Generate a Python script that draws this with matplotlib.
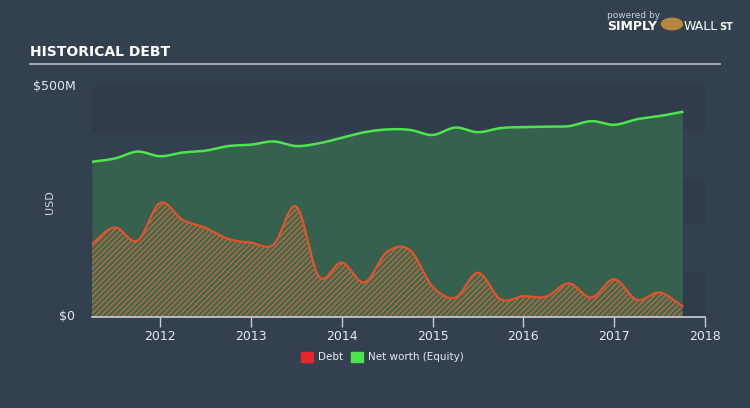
import numpy as np
import matplotlib
matplotlib.use("Agg")
import matplotlib.pyplot as plt
from matplotlib.patches import Rectangle

# ---- data (USD millions, quarterly) ----
dates = [2011.25, 2011.5, 2011.75, 2012.0, 2012.25, 2012.5, 2012.75, 2013.0,
         2013.25, 2013.5, 2013.75, 2014.0, 2014.25, 2014.5, 2014.75, 2015.0,
         2015.25, 2015.5, 2015.75, 2016.0, 2016.25, 2016.5, 2016.75, 2017.0,
         2017.25, 2017.5, 2017.75]
debt = [159, 194, 165, 247, 210, 193, 169, 161,
        157, 239, 87, 118, 75, 141, 145, 66,
        42, 96, 38, 45, 44, 73, 42, 82,
        37, 53, 24]
equity = [336, 343, 358, 348, 356, 360, 370, 373,
          380, 370, 376, 388, 400, 406, 405, 394,
          410, 400, 409, 411, 412, 413, 424, 416,
          428, 435, 444]
year_ticks = [2012, 2013, 2014, 2015, 2016, 2017, 2018]
y_ticks = [0, 500]
y_ticklabels = ["$0", "$500M"]
legend_labels = ["Debt", "Net worth (Equity)"]


def smooth(x, y, n=12):
    """Catmull-Rom rendering of the path through the data points."""
    x = np.asarray(x, float); y = np.asarray(y, float)
    px = np.concatenate([[2 * x[0] - x[1]], x, [2 * x[-1] - x[-2]]])
    py = np.concatenate([[2 * y[0] - y[1]], y, [2 * y[-1] - y[-2]]])
    xs, ys = [], []
    t = np.linspace(0, 1, n, endpoint=False)
    for i in range(1, len(px) - 2):
        for arr, out in ((px, xs), (py, ys)):
            p0, p1, p2, p3 = arr[i - 1], arr[i], arr[i + 1], arr[i + 2]
            out.extend(0.5 * ((2 * p1) + (-p0 + p2) * t +
                              (2 * p0 - 5 * p1 + 4 * p2 - p3) * t ** 2 +
                              (-p0 + 3 * p1 - 3 * p2 + p3) * t ** 3))
    xs.append(x[-1]); ys.append(y[-1])
    return np.array(xs), np.array(ys)


BG = "#334050"
BAND = "#303c4b"
plt.rcParams["hatch.linewidth"] = 0.9

fig = plt.figure(figsize=(7.5, 4.08), dpi=100)
fig.patch.set_facecolor(BG)
ax = fig.add_axes([92 / 750, 1 - 317 / 408, (705 - 92) / 750, (317 - 86) / 408])
ax.set_facecolor(BG)
ax.set_xlim(2011.25, 2018)
ax.set_ylim(0, 500)

# alternating bands
for i, lo in enumerate(range(0, 500, 100)):
    if i % 2 == 0:
        ax.axhspan(lo, lo + 100, color=BAND, lw=0, zorder=0)

ex, ey = smooth(dates, equity)
dx, dy = smooth(dates, debt)
ax.fill_between(ex, 0, ey, color="#37614f", lw=0, zorder=1)
ax.fill_between(dx, 0, dy, facecolor="#3f6a4f", edgecolor="#c8673c",
                hatch="//////", lw=0, zorder=2)
ax.plot(ex, ey, color="#4ee44e", lw=1.8, zorder=3)
ax.plot(dx, dy, color="#e4512a", lw=1.6, zorder=3)

for s in ["top", "right", "left"]:
    ax.spines[s].set_visible(False)
ax.spines["bottom"].set_color("#c8ced6")
ax.spines["bottom"].set_linewidth(1.2)
ax.set_xticks(year_ticks)
ax.set_xticklabels([str(y) for y in year_ticks])
ax.tick_params(axis="x", colors="#c8ced6", length=7, width=1, labelsize=9,
               labelcolor="#e6e9ee", pad=2)
ax.set_yticks(y_ticks)
ax.set_yticklabels(y_ticklabels)
ax.tick_params(axis="y", length=0, labelsize=9, labelcolor="#e6e9ee", pad=12)
for lbl in ax.get_yticklabels():
    lbl.set_verticalalignment("center")
fig.text(50 / 750, 1 - 202 / 408, "USD", color="#d0d5dc", fontsize=8,
         rotation=90, va="center", ha="center")

# title + rule
fig.text(30 / 750, 1 - 52 / 408, "HISTORICAL DEBT", color="white", fontsize=10,
         fontweight="bold", va="center", ha="left",
         family=["Liberation Sans Narrow", "DejaVu Sans"])
fig.add_artist(plt.Line2D([30 / 750, 720 / 750], [1 - 64 / 408] * 2,
                          color="#b9c1cc", lw=1.2, transform=fig.transFigure))

# branding
fig.text(607 / 750, 1 - 15 / 408, "powered by", color="#c8ced6", fontsize=6.5,
         va="center", ha="left")
fig.text(607 / 750, 1 - 27 / 408, "SIMPLY", color="white", fontsize=9,
         fontweight="bold", va="center", ha="left")
fig.add_artist(plt.Circle((672 / 750, 1 - 24 / 408), 0.014, color="#b8873e",
                          transform=fig.transFigure))
fig.text(684 / 750, 1 - 27 / 408, "WALL", color="white", fontsize=9,
         va="center", ha="left")
fig.text(719 / 750, 1 - 27 / 408, "ST", color="white", fontsize=7,
         fontweight="bold", va="center", ha="left")

# legend
fig.add_artist(Rectangle((301 / 750, 1 - 362 / 408), 12 / 750, 10 / 408,
                         color="#e8272a", transform=fig.transFigure))
fig.text(318 / 750, 1 - 357 / 408, legend_labels[0], color="#e6e9ee",
         fontsize=7.5, va="center", ha="left")
fig.add_artist(Rectangle((351 / 750, 1 - 362 / 408), 12 / 750, 10 / 408,
                         color="#4ee44e", transform=fig.transFigure))
fig.text(368 / 750, 1 - 357 / 408, legend_labels[1], color="#e6e9ee",
         fontsize=7.5, va="center", ha="left")

fig.savefig("out.png", dpi=100, facecolor=BG)
